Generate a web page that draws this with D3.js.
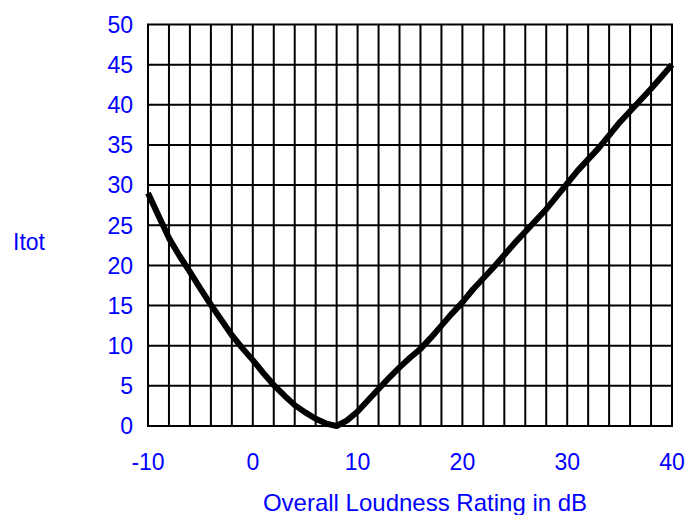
<html>
<script src="https://d3js.org/d3.v7.min.js"></script>
<style>
body {margin: 0; background: white;}
text {font-family: "Liberation Sans", Arial, sans-serif; fill: #0000ff;}
</style>
<body>
<svg width=688 height=515></svg>
<script>
// curve, one point per dB
var loudness = [-10,-9,-8,-7,-6,-5,-4,-3,-2,-1,0,1,2,3,4,5,6,7,8,9,10,11,12,13,14,15,16,17,18,19,20,
    21,22,23,24,25,26,27,28,29,30,31,32,33,34,35,36,37,38,39,40];
var itot = [29,26.2,23.4,21.2,19.2,17.1,15.1,13.2,11.3,9.7,8.2,6.6,5.1,3.8,2.6,1.7,0.9,0.3,0,0.7,1.8,
    3.2,4.6,6.0,7.3,8.5,9.6,11.0,12.5,14.0,15.4,17.0,18.4,19.8,21.3,22.8,24.2,25.6,27.0,28.6,30.2,
    31.8,33.2,34.6,36.2,37.8,39.2,40.6,42.0,43.5,45];
var xTicks = [-10,0,10,20,30,40];
var yTicks = [0,5,10,15,20,25,30,35,40,45,50];
var xGrid = d3.range(-10, 41, 2);

var svg = d3.select("svg");
var plotLeft = 148, plotRight = 672, plotTop = 24.5, plotBottom = 426;

var xscale = d3.scaleLinear().domain([-10, 40]).range([plotLeft, plotRight]);
var yscale = d3.scaleLinear().domain([0, 50]).range([plotBottom, plotTop]);

//grid
svg.append("g").selectAll("line").data(xGrid).enter().append("line")
    .attr("x1", function(d) {return xscale(d);})
    .attr("x2", function(d) {return xscale(d);})
    .attr("y1", plotTop).attr("y2", plotBottom)
    .style("stroke", "black").style("stroke-width", 2);
svg.append("g").selectAll("line").data(yTicks).enter().append("line")
    .attr("y1", function(d) {return yscale(d);})
    .attr("y2", function(d) {return yscale(d);})
    .attr("x1", plotLeft - 1).attr("x2", plotRight + 1)
    .style("stroke", "black").style("stroke-width", 2);

//tick labels
svg.append("g").selectAll("text").data(yTicks).enter().append("text")
    .attr("x", 133)
    .attr("y", function(d) {return yscale(d);})
    .attr("dy", "0.36em")
    .attr("text-anchor", "end")
    .style("font-size", "23px")
    .text(function(d) {return d;});
svg.append("g").selectAll("text").data(xTicks).enter().append("text")
    .attr("x", function(d) {return xscale(d);})
    .attr("y", 470)
    .attr("text-anchor", "middle")
    .style("font-size", "23px")
    .text(function(d) {return d;});

//axis titles
svg.append("text").attr("x", 425).attr("y", 511)
    .attr("text-anchor", "middle").style("font-size", "24px")
    .text("Overall Loudness Rating in dB");
svg.append("text").attr("x", 13).attr("y", 250)
    .style("font-size", "23px")
    .text("Itot");

//curve
var line = d3.line()
    .x(function(d, i) {return xscale(loudness[i]);})
    .y(function(d) {return yscale(d);});
svg.append("path")
    .attr("d", line(itot))
    .style("fill", "none")
    .style("stroke", "black")
    .style("stroke-width", 6)
    .style("stroke-linejoin", "round");
</script>
</body>
</html>
